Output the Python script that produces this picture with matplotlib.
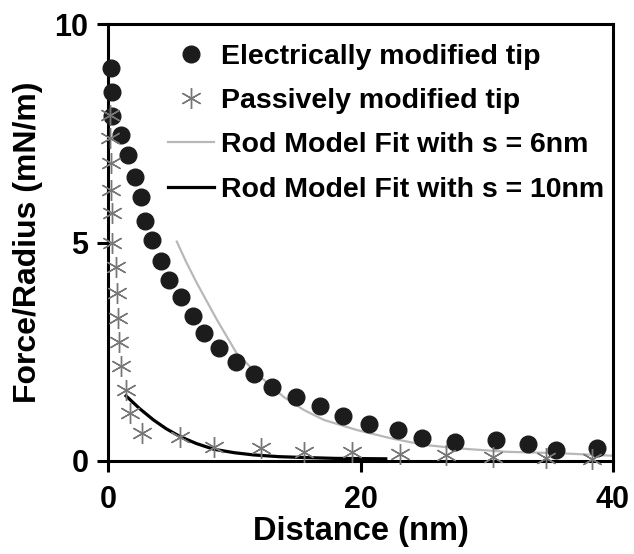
import numpy as np
import matplotlib.pyplot as plt

plt.rcParams['font.family'] = ['Liberation Sans', 'DejaVu Sans']
plt.rcParams['font.weight'] = 'bold'

# electrically modified tip (circles)
elec_x = [0.2, 0.35, 0.35, 1.0, 1.6, 2.15, 2.65, 2.95, 3.5, 4.2, 4.85, 5.8, 6.7, 7.6, 8.8, 10.1,
          11.6, 13.0, 14.9, 16.8, 18.6, 20.7, 23.0, 24.9, 27.5, 30.7, 33.3, 35.5, 38.7]
elec_y = [9.0, 8.45, 7.9, 7.45, 7.0, 6.5, 6.05, 5.5, 5.06, 4.58, 4.14, 3.75, 3.32, 2.92, 2.58, 2.26,
          1.99, 1.69, 1.47, 1.26, 1.03, 0.85, 0.71, 0.52, 0.43, 0.48, 0.40, 0.25, 0.29]

# passively modified tip (asterisks)
pass_x = [0.15, 0.15, 0.2, 0.25, 0.3, 0.3, 0.6, 0.75, 0.8, 0.85, 1.05, 1.4, 1.75, 2.7,
          5.7, 8.4, 12.1, 15.5, 19.3, 23.1, 26.8, 30.5, 34.7, 38.3]
pass_y = [7.92, 7.39, 6.81, 6.2, 5.67, 5.0, 4.43, 3.85, 3.27, 2.73, 2.17, 1.62, 1.09, 0.65,
          0.55, 0.33, 0.29, 0.2, 0.2, 0.16, 0.14, 0.1, 0.08, 0.05]

# rod model fits
fit6_x = [5.45, 6.2, 7.04, 8.63, 10.2, 12.06, 13.9, 15.5, 17.1, 19.7, 22.4, 25.0, 27.7, 31.6, 35.6, 40.0]
fit6_y = [5.02, 4.55, 4.07, 3.23, 2.46, 1.93, 1.47, 1.17, 0.94, 0.71, 0.52, 0.37, 0.29, 0.21, 0.18, 0.12]
fit10_x = [1.43, 2.5, 3.6, 4.6, 5.7, 7.0, 8.36, 10.0, 11.5, 13.5, 15.5, 18.0, 22.0]
fit10_y = [1.49, 1.2, 0.94, 0.74, 0.56, 0.40, 0.27, 0.19, 0.14, 0.10, 0.08, 0.06, 0.05]

fig = plt.figure(figsize=(6.34, 5.54), dpi=100)
ax = fig.add_axes([108/634, 93/554, 505/634, 437/554])

ax.plot(elec_x, elec_y, 'o', color='#1c1c1c', markersize=12, clip_on=False, zorder=3,
        label='Electrically modified tip')
ax.plot(pass_x, pass_y, linestyle='none', marker=(6, 2, 0), color='#777777', markersize=15,
        markeredgewidth=1.0, clip_on=False, zorder=4, label='Passively modified tip')
ax.plot(fit6_x, fit6_y, color='#b8b8b8', lw=1.6, zorder=2, label='Rod Model Fit with s = 6nm')
ax.plot(fit10_x, fit10_y, color='black', lw=2.3, zorder=2, label='Rod Model Fit with s = 10nm')

ax.set_xlim(0, 40)
ax.set_ylim(0, 10)
ax.set_xticks([0, 20, 40])
ax.set_yticks([0, 5, 10])
for s in ax.spines.values():
    s.set_linewidth(2.2)
ax.tick_params(direction='out', length=8, width=2.2, labelsize=22, pad=6)
ax.tick_params(axis='x', pad=9)

ax.set_xlabel('Distance (nm)', fontsize=23.5, fontweight='bold', labelpad=1)
ax.set_ylabel('Force/Radius (mN/m)', fontsize=23, fontweight='bold', labelpad=8)

ax.legend(loc='upper left', bbox_to_anchor=((168-108)/505, (461-44)/437), frameon=False,
          fontsize=20.5, handlelength=1.6, handletextpad=0.25, labelspacing=0.64,
          borderpad=0, borderaxespad=0, numpoints=1)

fig.savefig('out.png', dpi=100)
